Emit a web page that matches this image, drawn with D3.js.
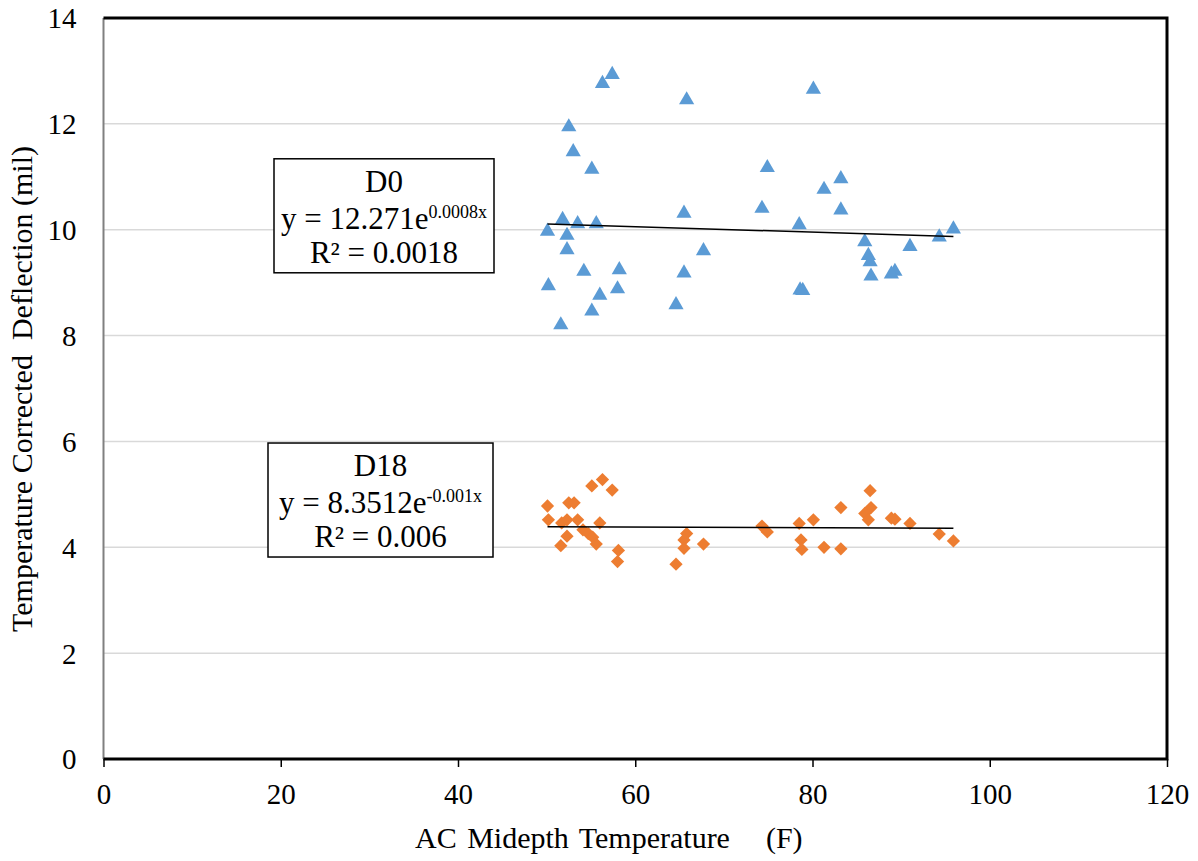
<!DOCTYPE html>
<html>
<head>
<meta charset="utf-8">
<script src="https://cdn.jsdelivr.net/npm/d3@7"></script>
<style>
  body { margin: 0; background: #fff; }
  svg text { font-family: "Liberation Serif", "Times New Roman", serif; fill: #000; }
</style>
</head>
<body>
<div id="chart"></div>
<script>
// D0 readings (AC midepth temp, deflection)
var d0Temp = [57.4, 56.3, 65.8, 52.5, 53.0, 55.1, 65.5, 51.8, 53.5, 55.6, 50.1, 52.3, 52.3, 67.7,
              54.2, 58.2, 65.5, 50.2, 58.0, 56.0, 55.1, 64.6, 51.6, 74.9, 74.3, 80.1, 83.2, 81.3,
              83.2, 78.5, 85.9, 86.3, 86.5, 86.6, 89.3, 88.9, 91.0, 94.3, 95.9, 78.6, 78.9];
var d0Defl = [12.95, 12.78, 12.47, 11.96, 11.49, 11.16, 10.33, 10.21, 10.13, 10.13, 9.99, 9.91, 9.64, 9.62,
              9.23, 9.26, 9.20, 8.96, 8.90, 8.78, 8.48, 8.60, 8.22, 11.19, 10.42, 12.67, 10.98, 10.78,
              10.39, 10.11, 9.79, 9.53, 9.41, 9.14, 9.23, 9.18, 9.70, 9.88, 10.03, 8.88, 8.87];

// D18 readings
var d18Temp = [50.1, 50.2, 52.5, 53.1, 51.7, 52.3, 53.5, 52.3, 51.6, 54.1, 54.7, 55.2, 55.6, 56.0,
               55.1, 56.3, 57.4, 58.1, 58.0, 64.6, 65.8, 65.5, 65.5, 67.7, 74.3, 74.9, 78.5, 78.7,
               78.8, 80.1, 81.3, 83.2, 83.2, 86.5, 86.6, 85.9, 86.3, 88.9, 89.3, 91.0, 94.3, 95.9];
var d18Defl = [4.78, 4.52, 4.84, 4.84, 4.46, 4.52, 4.52, 4.21, 4.03, 4.33, 4.26, 4.19, 4.06, 4.46,
               5.16, 5.28, 5.08, 3.94, 3.73, 3.68, 4.26, 4.14, 3.98, 4.06, 4.40, 4.29, 4.45, 4.14,
               3.96, 4.52, 4.00, 4.75, 3.97, 5.07, 4.75, 4.64, 4.52, 4.55, 4.53, 4.45, 4.25, 4.12];

// trendline endpoints as drawn
var trendTemp = [50.1, 95.9];
var d0Trend = [10.11, 9.87];
var d18Trend = [4.39, 4.36];

var xTicks = [0, 20, 40, 60, 80, 100, 120];
var yTicks = [0, 2, 4, 6, 8, 10, 12, 14];

// trendline labels, anchored at top of box (in data units)
var labels = [
  {name: "D0", coef: "12.271", exp: "0.0008x", r2: "0.0018", at: 11.34, cx: 384, w: 220},
  {name: "D18", coef: "8.3512", exp: "-0.001x", r2: "0.006", at: 5.97, cx: 380.5, w: 225}
];

var serif = "'Liberation Serif', 'Times New Roman', serif";

var W = 1198, H = 861;
var margin = {top: 18, right: 31, bottom: 102, left: 103.5},
    width = W - margin.left - margin.right,
    height = H - margin.top - margin.bottom;

var svg = d3.select("#chart").append("svg")
    .attr("width", W).attr("height", H);
var g = svg.append("g")
    .attr("transform", "translate(" + margin.left + "," + margin.top + ")");

var x = d3.scaleLinear().domain([0, 120]).range([0, width]);
var y = d3.scaleLinear().domain([0, 14]).range([height, 0]);

// gridlines
g.selectAll(".grid").data(yTicks.slice(1, -1)).enter().append("line")
  .attr("x1", 0).attr("x2", width)
  .attr("y1", function(d) { return y(d); }).attr("y2", function(d) { return y(d); })
  .attr("stroke", "#d9d9d9").attr("stroke-width", 1.5);

// y axis labels (no ticks)
var yAxis = g.append("g")
  .call(d3.axisLeft(y).tickValues(yTicks).tickSize(0).tickPadding(27))
  .attr("font-family", serif);
yAxis.select(".domain").remove();
yAxis.selectAll("text").style("font-size", "29px").style("font-family", serif).attr("dy", "0.34em");

// x axis
var xAxis = g.append("g")
  .attr("transform", "translate(0," + height + ")")
  .call(d3.axisBottom(x).tickValues(xTicks).tickSize(8).tickPadding(16))
  .attr("font-family", serif);
xAxis.select(".domain").remove();
xAxis.selectAll("line").attr("stroke", "#000").attr("stroke-width", 1.5);
xAxis.selectAll("text").style("font-size", "29px").style("font-family", serif);

// plot border
g.append("line").attr("x1", 0).attr("x2", 0).attr("y1", 0).attr("y2", height)
  .attr("stroke", "#808080").attr("stroke-width", 2);
g.append("path")
  .attr("d", "M0,0H" + width + "V" + height + "H0")
  .attr("fill", "none").attr("stroke", "#000").attr("stroke-width", 3);

// axis titles
var xt = svg.append("text")
  .attr("x", 415).attr("y", 848)
  .style("font-size", "30px")
  .attr("word-spacing", 3)
  .text("AC Midepth Temperature");
xt.append("tspan").attr("dx", 36).text("(F)");

svg.append("text")
  .attr("transform", "translate(32," + 389 + ") rotate(-90)")
  .attr("text-anchor", "middle").style("font-size", "30px")
  .attr("xml:space", "preserve")
  .text("Temperature Corrected  Deflection (mil)");

// markers
var tri = d3.symbol().type(d3.symbolTriangle).size(100);
var dia = d3.symbol().type(d3.symbolSquare).size(88);

g.selectAll(".d0").data(d0Temp).enter().append("path")
  .attr("d", tri)
  .attr("transform", function(d, i) { return "translate(" + x(d) + "," + (y(d0Defl[i]) + 1) + ")"; })
  .attr("fill", "#5b9bd5");

g.selectAll(".d18").data(d18Temp).enter().append("path")
  .attr("d", dia)
  .attr("transform", function(d, i) { return "translate(" + x(d) + "," + y(d18Defl[i]) + ") rotate(45)"; })
  .attr("fill", "#ed7d31");

// trendlines
var line = d3.line()
  .x(function(d) { return x(d[0]); })
  .y(function(d) { return y(d[1]); });
g.append("path").datum(d3.zip(trendTemp, d0Trend))
  .attr("d", line).attr("fill", "none").attr("stroke", "#000").attr("stroke-width", 1.5);
g.append("path").datum(d3.zip(trendTemp, d18Trend))
  .attr("d", line).attr("fill", "none").attr("stroke", "#000").attr("stroke-width", 1.5);

// equation boxes
labels.forEach(function(l) {
  var top = y(l.at);
  var box = g.append("g");
  var bx = l.cx - margin.left;
  box.append("rect")
    .attr("x", bx - l.w / 2).attr("y", top).attr("width", l.w).attr("height", 114)
    .attr("fill", "#fff").attr("stroke", "#000").attr("stroke-width", 1.5);
  box.append("text").attr("x", bx).attr("y", top + 33)
    .attr("text-anchor", "middle").style("font-size", "31px").text(l.name);
  var eq = box.append("text").attr("x", bx).attr("y", top + 70)
    .attr("text-anchor", "middle").style("font-size", "31px");
  eq.append("tspan").text("y = " + l.coef + "e");
  eq.append("tspan").style("font-size", "18px").attr("dy", -11).text(l.exp);
  box.append("text").attr("x", bx).attr("y", top + 104)
    .attr("text-anchor", "middle").style("font-size", "31px").text("R² = " + l.r2);
});
</script>
</body>
</html>
